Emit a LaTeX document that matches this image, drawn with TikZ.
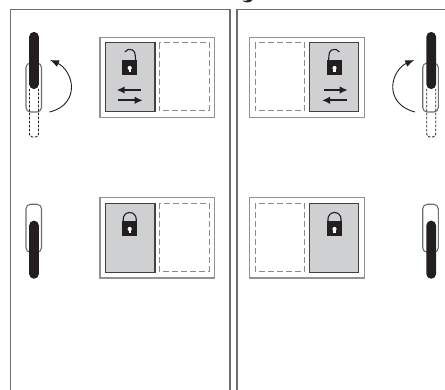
\documentclass[tikz,border=0pt]{standalone}
\usepackage{xcolor}
\usetikzlibrary{
  arrows.meta,
  positioning
}
\definecolor{framegray}{HTML}{6E6E6E}
\definecolor{panelgray}{HTML}{CFD0D2}
\definecolor{handleblack}{HTML}{231F20}
\tikzset{
  frameline/.style={draw=framegray,line width=1.4pt},
  glazing/.style={draw=framegray!75,line width=1.1pt,fill=white},
  sash/.style={draw=handleblack!85,line width=1.2pt,fill=panelgray},
  ghost/.style={draw=framegray!80,line width=1pt,dash pattern=on 6pt off 3pt},
  rose/.style={draw=framegray,line width=1.1pt,fill=white,rounded corners=4.5pt},
  grip/.style={draw=none,fill=handleblack,rounded corners=4.6pt},
  gripghost/.style={draw=handleblack,line width=0.9pt,dash pattern=on 2.5pt off 1.5pt,rounded corners=3pt},
  turn/.style={draw=handleblack,line width=0.9pt,-{Latex[length=9pt,width=7pt]}},
  slide/.style={draw=handleblack,line width=2pt,-{Latex[length=8pt,width=7.5pt]}},
  shackle/.style={draw=handleblack,line width=1.1pt}
}
% lock body with keyhole
\newcommand{\lockbody}[2]{
  \fill[handleblack] (#1-7.5,#2) rectangle (#1+7.5,#2+15.5);
  \fill[white] (#1,#2+8) circle (2.1);
  \fill[white] (#1-1.1,#2+8) rectangle (#1+1.1,#2+12.5);
}
\begin{document}
\begin{tikzpicture}[x=1pt,y=-1pt]
\useasboundingbox (0,0) rectangle (445,390);
% panels
\draw[frameline] (10.7,390)--(10.7,9.7)--(230,9.7)--(230,390);
\draw[frameline] (237,390)--(237,9.7)--(445,9.7);
% cropped mark at the top edge
\fill[handleblack] (242.5,0.6) .. controls (245,3.2) and (250,3.2) .. (252.5,0) -- (248,0) .. controls (247,1) and (245,1) .. cycle;
% top left window
\draw[glazing] (100,37.3) rectangle (214.7,117.3);
\draw[sash] (105.7,42.7) rectangle (155,111.7);
\draw[ghost] (159.3,42.7) rectangle (209,110.7);
\lockbody{129.7}{60}
\draw[shackle] (124.8,52) arc[start angle=-150,end angle=5,radius=5.6] -- (135.6,60);
\coordinate (tlA) at (141,90);
\coordinate (tlB) at (116.7,90);
\coordinate (tlC) at (118,100.3);
\coordinate (tlD) at (142.7,100.3);
\draw[slide] (tlA)--(tlB);
\draw[slide] (tlC)--(tlD);
% top left handle
\draw[rose] (26,63) rectangle (41.5,112);
\draw[gripghost] (29.5,89) -- (29.5,137) -- (38.5,137) -- (38.5,89);
\draw[grip] (29.2,89) rectangle (38.8,32);
\coordinate (tlE) at (49.5,112);
\coordinate (tlF) at (50,60);
\draw[turn] (tlE) .. controls (66,108) and (71.5,97) .. (71.5,87) .. controls (71.5,76) and (64,66) .. (tlF);
% bottom left window
\draw[glazing] (100,197.3) rectangle (214.7,278);
\draw[sash] (105.7,203.3) rectangle (155,272.3);
\draw[ghost] (159.3,203.3) rectangle (209,271.3);
\lockbody{129.7}{221}
\draw[shackle] (123.2,221) -- (123.2,219) arc[start angle=180,end angle=360,radius=6.5] -- (136.2,221);
% bottom left handle
\draw[rose] (26,204.3) rectangle (41.5,252.3);
\draw[grip] (29.2,220.7) rectangle (38.8,278.7);
% top right window
\draw[glazing] (249.7,37.3) rectangle (364.3,117.3);
\draw[sash] (309.7,42.7) rectangle (358.7,111.7);
\draw[ghost] (255.3,42.7) rectangle (304.7,110.7);
\lockbody{334.5}{60}
\draw[shackle] (339.4,52) arc[start angle=-30,end angle=-185,radius=5.6] -- (328.6,60);
\coordinate (trA) at (324,90);
\coordinate (trB) at (347.7,90);
\coordinate (trC) at (346.7,100.3);
\coordinate (trD) at (322,100.3);
\draw[slide] (trA)--(trB);
\draw[slide] (trC)--(trD);
% top right handle
\draw[rose] (422.7,63) rectangle (438.3,112);
\draw[gripghost] (426.7,89) -- (426.7,137) -- (435.7,137) -- (435.7,89);
\draw[grip] (426.4,89) rectangle (436,32);
\coordinate (trE) at (415,112);
\coordinate (trF) at (414.3,60);
\draw[turn] (trE) .. controls (399,108) and (392.7,97) .. (392.7,87) .. controls (392.7,76) and (400,66) .. (trF);
% bottom right window
\draw[glazing] (249.7,197.3) rectangle (364.3,278);
\draw[sash] (309.7,203.3) rectangle (358.7,272.3);
\draw[ghost] (255.3,203.3) rectangle (304.7,271.3);
\lockbody{334.5}{221}
\draw[shackle] (328,221) -- (328,219) arc[start angle=180,end angle=360,radius=6.5] -- (341,221);
% bottom right handle
\draw[rose] (422.7,204.3) rectangle (438.3,252.3);
\draw[grip] (426.4,220.7) rectangle (436,278.7);
\end{tikzpicture}
\end{document}
